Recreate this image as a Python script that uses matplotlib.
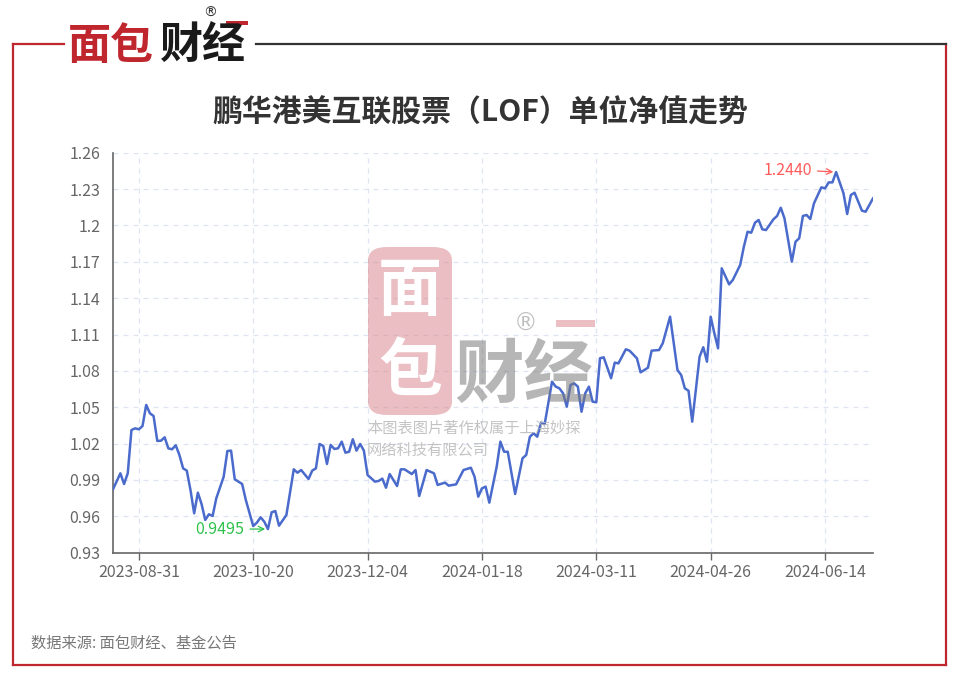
"""
鹏华港美互联股票 (LOF) 单位净值走势 — 面包财经风格折线图
Output: out.png (960x679)
"""
import matplotlib
matplotlib.use("Agg")
import matplotlib.pyplot as plt
from matplotlib.patches import FancyBboxPatch, Rectangle
from matplotlib.lines import Line2D

plt.rcParams["font.family"] = ["Noto Sans CJK SC", "DejaVu Sans"]
plt.rcParams["axes.unicode_minus"] = False

TITLE = "鹏华港美互联股票（LOF）单位净值走势"
SOURCE = "数据来源: 面包财经、基金公告"
WM_LINES = ["本图表图片著作权属于上海妙探", "网络科技有限公司"]

# 类目轴上的交易日序号 + 单位净值 (按图读取的折点)
idx = [0, 2, 3, 4, 5, 6, 7, 8, 9, 10, 11, 12, 13, 14, 15, 16, 17, 18, 19, 20,
       21, 22, 23, 24, 25, 26, 27, 28, 30, 31, 32, 33, 35, 36, 38, 39, 40, 41, 42, 43,
       44, 45, 47, 49, 50, 51, 53, 54, 55, 56, 57, 58, 59, 60, 61, 62, 63, 64, 65, 66,
       67, 68, 69, 71, 72, 73, 74, 75, 77, 78, 79, 81, 82, 83, 85, 87, 88, 90, 91, 93,
       95, 97, 98, 99, 100, 101, 102, 104, 105, 106, 107, 109, 111, 112, 113, 114, 115, 116, 117, 119,
       120, 121, 122, 123, 124, 125, 126, 127, 128, 129, 130, 131, 132, 133, 135, 136, 137, 139, 140, 142,
       143, 145, 146, 148, 149, 151, 153, 154, 155, 156, 157, 159, 160, 161, 162, 163, 164, 165, 167, 168,
       170, 171, 172, 173, 174, 175, 176, 177, 179, 180, 181, 182, 184, 185, 186, 187, 188, 189, 190, 192,
       193, 194, 195, 196, 198, 199, 200, 201, 203, 204, 206]
nav = [0.9823, 0.9955, 0.9867, 0.9955, 1.0312, 1.0326, 1.0318, 1.0345, 1.0519, 1.0450,
       1.0428, 1.0222, 1.0224, 1.0252, 1.0161, 1.0153, 1.0186, 1.0106, 0.9996, 0.9977,
       0.9817, 0.9625, 0.9795, 0.9702, 0.9570, 0.9617, 0.9603, 0.9749, 0.9927, 1.0139,
       1.0142, 0.9906, 0.9867, 0.9735, 0.9520, 0.9548, 0.9592, 0.9556, 0.9495, 0.9633,
       0.9644, 0.9523, 0.9611, 0.9988, 0.9960, 0.9982, 0.9908, 0.9977, 0.9996, 1.0197,
       1.0180, 1.0032, 1.0189, 1.0156, 1.0161, 1.0216, 1.0125, 1.0133, 1.0236, 1.0142,
       1.0197, 1.0142, 0.9941, 0.9886, 0.9892, 0.9911, 0.9836, 0.9949, 0.9850, 0.9988,
       0.9988, 0.9949, 0.9982, 0.9768, 0.9982, 0.9955, 0.9859, 0.9878, 0.9853, 0.9864,
       0.9982, 1.0001, 0.9927, 0.9762, 0.9831, 0.9845, 0.9713, 1.0010, 1.0216, 1.0133,
       1.0133, 0.9784, 1.0079, 1.0106, 1.0257, 1.0285, 1.0257, 1.0373, 1.0360, 1.0711,
       1.0670, 1.0656, 1.0615, 1.0505, 1.0683, 1.0697, 1.0670, 1.0463, 1.0615, 1.0670,
       1.0546, 1.0541, 1.0904, 1.0912, 1.0739, 1.0868, 1.0862, 1.0978, 1.0967, 1.0904,
       1.0788, 1.0826, 1.0967, 1.0972, 1.1027, 1.1247, 1.0807, 1.0766, 1.0656, 1.0636,
       1.0381, 1.0917, 1.0995, 1.0876, 1.1247, 1.1110, 1.0986, 1.1646, 1.1514, 1.1550,
       1.1674, 1.1825, 1.1948, 1.1940, 1.2022, 1.2045, 1.1968, 1.1962, 1.2050, 1.2078,
       1.2146, 1.2059, 1.1701, 1.1866, 1.1894, 1.2078, 1.2086, 1.2053, 1.2182, 1.2314,
       1.2306, 1.2355, 1.2355, 1.2440, 1.2265, 1.2094, 1.2251, 1.2270, 1.2122, 1.2113,
       1.2223]

tick_idx = [7, 38, 69, 100, 131, 162, 193]
tick_lbl = ["2023-08-31", "2023-10-20", "2023-12-04", "2024-01-18",
            "2024-03-11", "2024-04-26", "2024-06-14"]
y_ticks = [0.93, 0.96, 0.99, 1.02, 1.05, 1.08, 1.11, 1.14, 1.17, 1.2, 1.23, 1.26]
n_days = 207

min_i, min_v = 42, 0.9495
max_i, max_v = 196, 1.2440

W, H = 960, 679
RED = "#c0262d"
LINE = "#4a6bcc"


def fx(px):
    return px / W


def fy(py):
    return 1 - py / H


fig = plt.figure(figsize=(W / 100, H / 100), dpi=100)
fig.patch.set_facecolor("white")

ax = fig.add_axes([fx(113), fy(552.7), fx(873) - fx(113), fy(152.7) - fy(552.7)])
ax.plot(idx, nav, color=LINE, lw=1.8, zorder=3, solid_joinstyle="round")
ax.set_xlim(0, n_days - 1)
ax.set_ylim(y_ticks[0], y_ticks[-1])
ax.set_yticks(y_ticks)
ax.set_yticklabels([format(round(v, 2), "g") for v in y_ticks])
ax.set_xticks(tick_idx)
ax.set_xticklabels(tick_lbl)
ax.tick_params(axis="y", length=0, pad=9, labelsize=11.5, labelcolor="#666666")
ax.tick_params(axis="x", length=5, width=1, color="#666666", pad=3,
               labelsize=11.5, labelcolor="#666666")
ax.grid(True, ls=(0, (4, 4)), color="#dfe4f2", lw=0.9, zorder=0)
for s in ("top", "right"):
    ax.spines[s].set_visible(False)
for s in ("left", "bottom"):
    ax.spines[s].set_color("#666666")
    ax.spines[s].set_linewidth(1.2)

# 最低 / 最高点标注
GREEN = "#2fc24c"
PINK = "#ff5c5c"
ax.annotate("", xy=(min_i, min_v), xytext=(min_i - 5.6, min_v),
            arrowprops=dict(arrowstyle="->", color=GREEN, lw=0.9), zorder=4)
ax.text(min_i - 6.3, min_v, f"{min_v:.4f}", color=GREEN, fontsize=11.5,
        ha="right", va="center", zorder=4)
ax.annotate("", xy=(max_i, max_v), xytext=(max_i - 5.8, max_v + 0.001),
            arrowprops=dict(arrowstyle="->", color=PINK, lw=0.9), zorder=4)
ax.text(max_i - 6.5, max_v + 0.001, f"{max_v:.4f}", color=PINK, fontsize=11.5,
        ha="right", va="center", zorder=4)

# 标题 / 来源
fig.text(0.5, fy(113), TITLE, ha="center", va="center", fontsize=21.5,
         fontweight="bold", color="#333333")
fig.text(fx(31), fy(643), SOURCE, ha="left", va="center", fontsize=11, color="#777777")

# 外框
lw_frame = 1.6
fig.add_artist(Line2D([fx(13), fx(13)], [fy(44), fy(665)], color=RED, lw=lw_frame))
fig.add_artist(Line2D([fx(13), fx(946)], [fy(665), fy(665)], color=RED, lw=lw_frame))
fig.add_artist(Line2D([fx(946), fx(946)], [fy(44), fy(665)], color=RED, lw=lw_frame))
fig.add_artist(Line2D([fx(13), fx(64)], [fy(44), fy(44)], color=RED, lw=lw_frame))
fig.add_artist(Line2D([fx(256), fx(946)], [fy(44), fy(44)], color="#333333", lw=lw_frame))

# 左上角 logo
fig.text(fx(68), fy(46), "面包", ha="left", va="center", fontsize=31,
         fontweight="heavy", color=RED)
fig.text(fx(160), fy(46), "财经", ha="left", va="center", fontsize=31,
         fontweight="heavy", color="#1a1a1a")
fig.text(fx(210), fy(13), "®", ha="center", va="center", fontsize=10,
         color="#333333", family="DejaVu Sans")
fig.add_artist(Rectangle((fx(226), fy(25)), fx(22), fy(21) - fy(25), color=RED, lw=0))

# 中央水印
wm_alpha = 0.55
box = FancyBboxPatch((fx(368), fy(415)), fx(84), fy(247) - fy(415),
                     boxstyle="round,pad=0,rounding_size=0.02",
                     transform=fig.transFigure, facecolor="#d98a90", edgecolor="none",
                     alpha=wm_alpha, zorder=5)
fig.add_artist(box)
fig.text(fx(410), fy(291), "面", ha="center", va="center", fontsize=46,
         fontweight="bold", color="white", zorder=6)
fig.text(fx(410), fy(372), "包", ha="center", va="center", fontsize=46,
         fontweight="bold", color="white", zorder=6)
fig.text(fx(524), fy(377), "财经", ha="center", va="center", fontsize=50,
         fontweight="heavy", color="#7a7a7a", alpha=wm_alpha, zorder=6)
fig.text(fx(526), fy(324), "®", ha="center", va="center", fontsize=17,
         color="#8a8a8a", alpha=wm_alpha, zorder=6, family="DejaVu Sans")
fig.add_artist(Rectangle((fx(556), fy(327)), fx(39), fy(320) - fy(327),
                         color="#d98a90", alpha=wm_alpha, lw=0, zorder=6))
for k, s in enumerate(WM_LINES):
    fig.text(fx(367), fy(428 + 22 * k), s, ha="left", va="center", fontsize=11,
             color="#b5b5b5", alpha=0.8, zorder=6)

fig.savefig("out.png", dpi=100, facecolor="white")
